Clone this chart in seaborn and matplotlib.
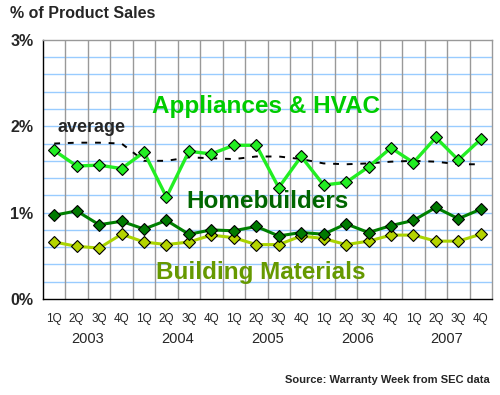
import numpy as np
import pandas as pd
import seaborn as sns
import matplotlib.pyplot as plt
import matplotlib.transforms as mtransforms

quarters = ["1Q", "2Q", "3Q", "4Q"] * 5
years = ["2003", "2004", "2005", "2006", "2007"]

appliances = [1.72, 1.54, 1.55, 1.51, 1.70, 1.18, 1.71, 1.68, 1.78, 1.78,
              1.29, 1.65, 1.32, 1.35, 1.53, 1.75, 1.58, 1.87, 1.61, 1.85]
homebuilders = [0.97, 1.02, 0.86, 0.90, 0.81, 0.91, 0.75, 0.80, 0.79, 0.84,
                0.73, 0.77, 0.75, 0.87, 0.77, 0.85, 0.91, 1.06, 0.93, 1.04]
building = [0.66, 0.61, 0.59, 0.75, 0.66, 0.63, 0.66, 0.74, 0.71, 0.63,
            0.63, 0.73, 0.70, 0.63, 0.67, 0.74, 0.74, 0.67, 0.67, 0.75]
average = [1.80, 1.81, 1.81, 1.80, 1.60, 1.60, 1.64, 1.63, 1.62, 1.65,
           1.65, 1.62, 1.57, 1.56, 1.57, 1.59, 1.60, 1.59, 1.56, 1.56]

df = pd.DataFrame({"x": np.arange(len(quarters)), "appliances": appliances,
                   "homebuilders": homebuilders, "building": building,
                   "average": average})

sns.set_style("white")
plt.rcParams["font.family"] = ["Liberation Sans", "DejaVu Sans"]

fig = plt.figure(figsize=(5, 3.95), dpi=100)
ax = fig.add_axes([0.086, 0.243, 0.898, 0.656])

# grid
for v in np.arange(0.2, 3.0, 0.2):
    ax.axhline(v, color="#99ccff", lw=1, zorder=0)
for b in np.arange(0.5, 19.5, 1):
    ax.axvline(b, color="#999999", lw=1, zorder=0)

sns.lineplot(data=df, x="x", y="average", ax=ax, color="black", lw=1.4,
             zorder=2).lines[-1].set_dashes([3, 4])
sns.lineplot(data=df, x="x", y="building", ax=ax, color="#aad400", lw=2.2,
             marker="D", markersize=6, markerfacecolor="#b4d400",
             markeredgecolor="black", markeredgewidth=0.8, zorder=3)
sns.lineplot(data=df, x="x", y="homebuilders", ax=ax, color="#008000", lw=2.2,
             marker="D", markersize=6, markerfacecolor="#007a00",
             markeredgecolor="black", markeredgewidth=0.8, zorder=4)
sns.lineplot(data=df, x="x", y="appliances", ax=ax, color="#22ee22", lw=2.4,
             marker="D", markersize=6, markerfacecolor="#22ee22",
             markeredgecolor="black", markeredgewidth=0.8, zorder=5)

ax.set_xlim(-0.5, 19.5)
ax.set_ylim(0, 3)
ax.set_xlabel("")
ax.set_ylabel("")

ax.set_yticks([0, 1, 2, 3])
ax.set_yticklabels(["0%", "1%", "2%", "3%"], fontsize=11.5, fontweight="bold")
ax.set_yticks(np.arange(0, 3.01, 0.2), minor=True)
ax.set_xticks(np.arange(20))
ax.set_xticklabels(quarters, fontsize=8.5)
ax.set_xticks(np.arange(-0.5, 19.6, 1), minor=True)
ax.tick_params(axis="x", which="major", length=0, pad=10)
ax.tick_params(axis="x", which="minor", length=4, width=1, color="black")
ax.tick_params(axis="y", which="both", length=4, width=1, color="black", pad=3)

for s in ["top", "right"]:
    ax.spines[s].set_color("#999999")
    ax.spines[s].set_linewidth(1)
for s in ["left", "bottom"]:
    ax.spines[s].set_color("black")
    ax.spines[s].set_linewidth(1)

trans = mtransforms.blended_transform_factory(ax.transData, fig.transFigure)
for i, yr in enumerate(years):
    ax.text(i * 4 + 1.5, 1 - 339 / 395, yr, transform=trans, ha="center",
            va="center", fontsize=10.5)


def ftext(x, y, s, **kw):
    fig.text(x / 500, 1 - y / 395, s, **kw)


ftext(266, 107, "Appliances & HVAC", fontsize=17.5, fontweight="bold",
      color="#00cc00", ha="center", va="center", zorder=6)
ftext(267, 201, "Homebuilders", fontsize=17.5, fontweight="bold",
      color="#006600", ha="center", va="center", zorder=6)
ftext(261, 273, "Building Materials", fontsize=17.5, fontweight="bold",
      color="#669900", ha="center", va="center", zorder=6)
ftext(58, 128, "average", fontsize=13, fontweight="bold", ha="left",
      va="center", zorder=6)
ftext(10, 13, "% of Product Sales", fontsize=11.5, fontweight="bold",
      ha="left", va="center")
ftext(490, 380, "Source: Warranty Week from SEC data", fontsize=8,
      fontweight="bold", ha="right", va="center")

fig.savefig("out.png", dpi=100)
